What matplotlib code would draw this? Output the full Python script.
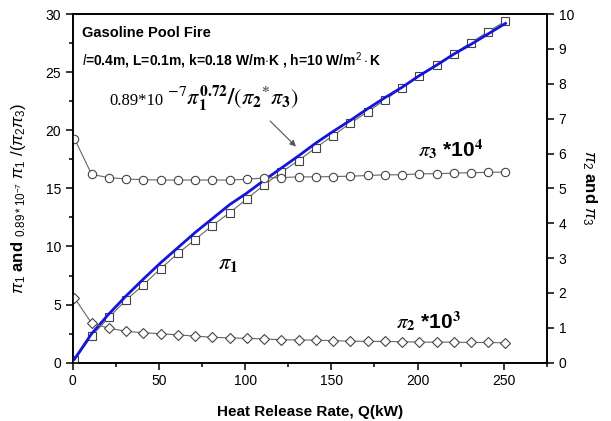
import matplotlib
matplotlib.use("Agg")
import matplotlib.pyplot as plt
from matplotlib.ticker import MultipleLocator

plt.rcParams["font.family"] = ["Liberation Sans", "DejaVu Sans"]
plt.rcParams["mathtext.fontset"] = "custom"
plt.rcParams["mathtext.rm"] = "Liberation Sans"
plt.rcParams["mathtext.it"] = "Liberation Sans:italic"
plt.rcParams["mathtext.bf"] = "Liberation Sans:bold"

# heat release rate (kW)
q_kw = [1, 11, 21, 31, 41, 51, 61, 71, 81, 91, 101, 111, 121,
        131, 141, 151, 161, 171, 181, 191, 201, 211, 221, 231, 241, 251]

# pi_1 (left axis, squares)
pi1 = [0.2, 2.3, 3.9, 5.4, 6.7, 8.1, 9.4, 10.6, 11.8, 12.9, 14.1, 15.3, 16.4,
       17.4, 18.5, 19.55, 20.6, 21.6, 22.6, 23.65, 24.65, 25.65, 26.6, 27.55, 28.5, 29.4]

# correlation 0.89e-7 * pi1^0.72 / (pi2*pi3) (left axis, blue line)
corr = [0.3, 2.5, 4.2, 5.75, 7.2, 8.6, 9.9, 11.2, 12.4, 13.6, 14.6, 15.7, 16.75,
        17.8, 18.9, 19.9, 20.85, 21.85, 22.8, 23.7, 24.7, 25.6, 26.55, 27.4, 28.3, 29.2]

# pi_3 * 1e4 (right axis, circles)
pi3_e4 = [6.43, 5.40, 5.31, 5.27, 5.25, 5.24, 5.24, 5.24, 5.24, 5.24, 5.26, 5.30, 5.31,
          5.33, 5.33, 5.34, 5.35, 5.37, 5.39, 5.39, 5.42, 5.42, 5.44, 5.45, 5.46, 5.47]

# pi_2 * 1e3 (right axis, diamonds)
pi2_e3 = [1.86, 1.13, 0.99, 0.90, 0.86, 0.83, 0.80, 0.76, 0.73, 0.71, 0.70, 0.68, 0.66,
          0.65, 0.65, 0.63, 0.62, 0.61, 0.61, 0.60, 0.59, 0.59, 0.59, 0.58, 0.58, 0.57]

fig = plt.figure(figsize=(6.11, 4.21), dpi=100)
ax = fig.add_axes([0.119, 0.1385, 0.776, 0.828])
ax2 = ax.twinx()

line_kw = dict(color="#666666", lw=0.8, mfc="white", mec="#444444", mew=0.8)
ax.plot(q_kw, pi1, marker="s", ms=5.2, **line_kw, zorder=3)
ax.plot(q_kw, corr, color="#1414dc", lw=2.0, zorder=4)
ax2.plot(q_kw, pi3_e4, marker="o", ms=6, **line_kw)
ax2.plot(q_kw, pi2_e3, marker="D", ms=5.2, **line_kw)

ax.set_xlim(0, 275)
ax.set_ylim(0, 30)
ax2.set_ylim(0, 10)

ax.xaxis.set_major_locator(MultipleLocator(50))
ax.xaxis.set_minor_locator(MultipleLocator(25))
ax.yaxis.set_major_locator(MultipleLocator(5))
ax.yaxis.set_minor_locator(MultipleLocator(2.5))
ax2.yaxis.set_major_locator(MultipleLocator(1))

for a in (ax, ax2):
    for s in a.spines.values():
        s.set_linewidth(1.2)
    a.tick_params(which="major", direction="out", length=5, width=1.1, labelsize=10)
    a.tick_params(which="minor", direction="out", length=3, width=1.1)
ax.tick_params(axis="x", which="both", top=False)

ax.set_xlabel("Heat Release Rate, Q(kW)", fontsize=11, fontweight="bold", labelpad=12)
ax.set_ylabel(r"$\pi_1$ $\mathbf{and}$ $_{0.89*10^{-7}}\ \pi_1\ /(\pi_2\pi_3)$",
              fontsize=12)
ax.yaxis.set_label_coords(-0.095, 0.47)
ax2.set_ylabel(r"$\pi_2$ $\mathbf{and}$ $\pi_3$", fontsize=12, rotation=-90, labelpad=18)

ax.text(5.5, 28.0, "Gasoline Pool Fire", fontsize=10.5, fontweight="bold")
ax.text(5.5, 25.6, r"$\mathit{l}$=0.4m, L=0.1m, k=0.18 W/m$\cdot$K , h=10 W/m$^2\cdot$K",
        fontsize=10, fontweight="bold")

ax.text(21.5, 22.15, "0.89*10", fontsize=12, family="Liberation Serif", va="baseline")
ax.text(54.5, 22.15, r"${}^{-7}\pi_{\mathbf{1}}^{\mathbf{0.72}}\mathbf{/}(\pi_{\mathbf{2}}{}^{*}\pi_{\mathbf{3}})$",
        fontsize=16, math_fontfamily="stix", va="baseline")
ax.annotate("", xy=(129.5, 18.6), xytext=(114.5, 20.8),
            arrowprops=dict(arrowstyle="-|>", color="#555555", lw=0.8,
                            mutation_scale=9, shrinkA=0, shrinkB=0))

ax.text(84, 8.1, r"$\pi_{\mathbf{1}}$", fontsize=16, math_fontfamily="stix", va="baseline")
ax2.text(200, 5.9, r"$\pi_{\mathbf{3}}$ *10$^\mathbf{4}$", fontsize=15, fontweight="bold",
         math_fontfamily="stix", va="baseline")
ax2.text(187.5, 0.95, r"$\pi_{\mathbf{2}}$ *10$^\mathbf{3}$", fontsize=15, fontweight="bold",
         math_fontfamily="stix", va="baseline")

fig.savefig("out.png", dpi=100)
